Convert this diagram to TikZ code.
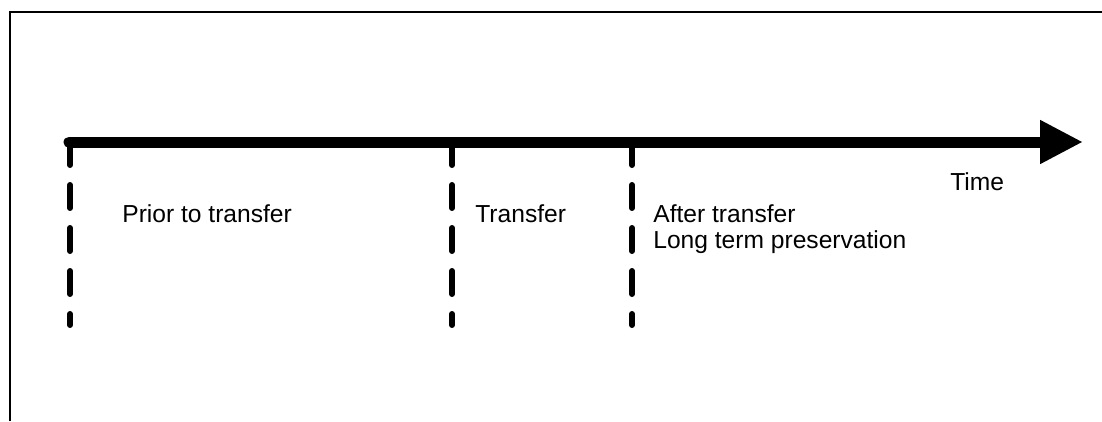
\documentclass[tikz,border=0pt]{standalone}
\usepackage{fontspec}
\setmainfont{Liberation Sans}
\usetikzlibrary{arrows.meta, positioning}

\begin{document}
\begin{tikzpicture}[every node/.style={inner sep=0pt, anchor=base west, font=\fontsize{14}{14}\selectfont},
    phase/.style={line width=0.12cm, line cap=round, dash pattern=on 0.46cm off 0.4cm},
    timeline/.style={line width=0.22cm, line cap=round, -{Triangle[length=0.86cm, width=0.82cm]}}]

  \useasboundingbox (0,0) rectangle (22.04,8.42);

  % Cornice
  \draw[line width=0.04cm] (0.2,0) -- (0.2,8.18) -- (22.04,8.18);

  % Linee tratteggiate delle fasi
  \coordinate (A) at (1.40,5.58);
  \coordinate (B) at (9.04,5.58);
  \coordinate (C) at (12.64,5.58);
  \coordinate (A') at (1.40,1.92);
  \coordinate (B') at (9.04,1.92);
  \coordinate (C') at (12.64,1.92);
  \foreach \p in {A,B,C}
    \draw[phase] (\p) -- (\p');

  % Freccia del tempo
  \coordinate (S) at (1.38,5.58);
  \coordinate (E) at (21.66,5.58);
  \draw[timeline] (S) -- (E);
  \node (time) at (19.0,4.62) {Time};

  % Etichette delle fasi
  \node (prior) at (2.44,3.98) {Prior to transfer};
  \node (transfer) at (9.50,3.98) {Transfer};
  \node (after) at (13.06,3.98) {After transfer};
  \node[below=0.52cm of after.base west, anchor=base west] (longterm) {Long term preservation};

\end{tikzpicture}
\end{document}
